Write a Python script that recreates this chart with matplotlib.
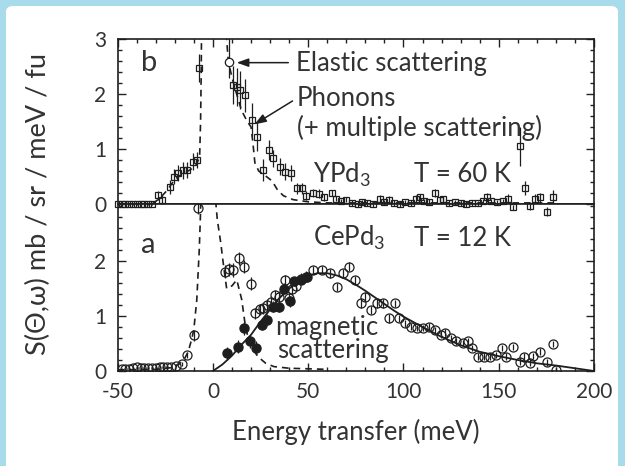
import matplotlib
matplotlib.use("Agg")
import matplotlib.pyplot as plt
from matplotlib.patches import FancyBboxPatch
from matplotlib.ticker import MultipleLocator, FixedLocator

plt.rcParams['font.family'] = ['Lato', 'DejaVu Sans']
plt.rcParams['mathtext.fontset'] = 'custom'
plt.rcParams['mathtext.rm'] = 'Lato'
plt.rcParams['mathtext.it'] = 'Lato'
plt.rcParams['text.color'] = '#333333'
plt.rcParams['axes.labelcolor'] = '#333333'
plt.rcParams['xtick.color'] = '#222222'
plt.rcParams['ytick.color'] = '#222222'
plt.rcParams['xtick.labelcolor'] = '#333333'
plt.rcParams['ytick.labelcolor'] = '#333333'

# --- panel b: YPd3, T = 60 K (open squares) ---
ypd_e = [-50, -48, -46, -44, -42, -40, -38, -36, -34, -32,
         -29, -26.5, -22.5, -20.4, -18.2, -15.6, -13.5, -10.3, -8.5, -7.3,
         10.7, 12.5, 14.2, 16.8, 20.3, 23, 26.4, 29.6, 31.7, 35.2, 37.8, 40.8,
         44, 46.6, 49, 52.4, 55.9, 58.5, 62.3, 64.5, 67, 70, 73, 76, 78, 81,
         84, 87.7, 90, 92.5, 95, 98, 101, 104, 106.5, 108.7, 111, 113.5, 116.6,
         119, 121, 124, 127, 130, 133, 136, 139, 141.5, 143.7, 146, 149, 152,
         155, 157.6, 161.2, 163.8, 166.4, 169, 171.6, 175.2, 178.7]
ypd_s = [0, 0, 0, 0, 0, 0, 0, 0, 0, 0,
         0.16, 0.08, 0.31, 0.5, 0.56, 0.61, 0.62, 0.77, 0.8, 2.47,
         2.16, 2.13, 2.07, 1.98, 1.53, 1.22, 0.62, 0.98, 0.83, 0.68, 0.59, 0.56,
         0.29, 0.29, 0.15, 0.2, 0.19, 0.12, 0.2, 0.1, 0.05, 0.08, 0.02, 0.0, 0.03, 0.02,
         0.0, 0.1, 0.03, 0.08, 0.02, 0.0, 0.03, 0.02, 0.1, 0.12, 0.05, 0.04, 0.2,
         0.08, 0.1, 0.02, 0.03, 0.02, 0.0, 0.02, 0.01, 0.05, 0.12, 0.05, 0.03, 0.05,
         0.1, -0.06, 1.05, 0.29, -0.04, 0.1, 0.12, -0.14, 0.13]
ypd_err = [0.02] * 10 + [0.08, 0.08, 0.12, 0.14, 0.15, 0.15, 0.15, 0.15, 0.15, 0.25,
           0.35, 0.35, 0.35, 0.3, 0.3, 0.25, 0.2, 0.18, 0.15, 0.15, 0.15, 0.15,
           0.1, 0.1, 0.08, 0.08, 0.08, 0.06, 0.06, 0.05, 0.05, 0.05, 0.05, 0.05, 0.05, 0.05,
           0.05, 0.06, 0.05, 0.06, 0.05, 0.05, 0.05, 0.05, 0.06, 0.06, 0.05, 0.05, 0.08,
           0.05, 0.05, 0.05, 0.05, 0.05, 0.05, 0.05, 0.05, 0.05, 0.08, 0.05, 0.05, 0.05,
           0.08, 0.05, 0.35, 0.12, 0.06, 0.08, 0.08, 0.08, 0.12]
elastic_e = [8.6]
elastic_s = [2.59]
elastic_err_lo = [0.3]
elastic_err_hi = [0.45]

# elastic + phonon model for YPd3
ypd_model_left_e = [-50, -32, -28, -24, -20, -16, -12, -9, -7, -6.5, -6.2, -6.0]
ypd_model_left_s = [0.0, 0.0, 0.1, 0.25, 0.45, 0.55, 0.62, 0.7, 0.85, 1.5, 2.3, 3.1]
ypd_model_right_e = [7, 8, 10, 12, 15, 18, 20, 21, 22, 24, 28, 31, 34, 37, 42, 50, 60, 180]
ypd_model_right_s = [3.1, 2.6, 2.3, 2.05, 1.7, 1.5, 1.4, 1.1, 0.75, 0.6, 0.5, 0.42,
                     0.25, 0.15, 0.08, 0.04, 0.02, 0.02]

# --- panel a: CePd3, T = 12 K ---
cepd_e = [-48, -46, -44, -42, -40, -38, -36, -34, -32, -30, -28, -26, -24, -22,
          -19.5, -16.4, -13.5, -10, -7.7,
          6.3, 8.5, 10.7, 13.8, 16.3, 19.8,
          22.2, 24.5, 26.3, 28.4, 30.5, 32.6, 34.7, 37.8, 40, 41.3, 43.5, 46.2, 49,
          52.4, 57.4, 61.6, 65, 68.1, 71.3, 74.4, 77.6, 79.7, 82.8, 86, 89.1, 92.2,
          95.4, 97.5, 100.6, 103.8, 106.9, 110, 113.2, 116.3, 119.5, 121.6, 124.7,
          127.8, 131, 134.1, 136.2, 139.3, 142.5, 145.6, 148.8, 151.9, 154, 157.5,
          161.4, 163.5, 166.4, 168, 171.7, 175.5, 178.6, 180.2]
cepd_s = [0.03, 0.03, 0.04, 0.05, 0.08, 0.05, 0.06, 0.05, 0.06, 0.06, 0.07, 0.08, 0.07, 0.08,
          0.1, 0.13, 0.29, 0.65, 2.96,
          1.81, 1.85, 1.84, 2.05, 1.9, 1.59,
          1.05, 1.12, 1.14, 1.2, 1.26, 1.38, 1.35, 1.65, 1.32, 1.5, 1.55, 1.68, 1.72,
          1.84, 1.84, 1.78, 1.53, 1.78, 1.9, 1.65, 1.23, 1.35, 1.11, 1.23, 1.23, 0.96,
          1.23, 0.96, 0.87, 0.81, 0.78, 0.78, 0.81, 0.75, 0.66, 0.7, 0.6,
          0.54, 0.51, 0.54, 0.42, 0.26, 0.26, 0.26, 0.29, 0.42, 0.26, 0.44,
          0.17, 0.26, 0.15, 0.27, 0.35, 0.16, 0.49, 0.02]
cepd_err = [0.02] * 14 + [0.03, 0.04, 0.05, 0.1, 0.1] + [0.12] * 6 + [0.1] * 13 + \
           [0.08] * 13 + [0.06] * 30

# magnetic part (filled circles)
mag_e = [7.5, 13.3, 16.3, 19.6, 22.7, 25.7, 28.4, 31.5, 34.7, 37.4, 40.6, 42.7, 46.2, 49.4]
mag_s = [0.32, 0.44, 0.78, 0.54, 0.42, 0.84, 0.93, 1.17, 1.17, 1.5, 1.27, 1.63, 1.66, 1.72]
mag_err = [0.12, 0.12, 0.12, 0.12, 0.12, 0.1, 0.1, 0.1, 0.1, 0.1, 0.1, 0.08, 0.08, 0.08]

# magnetic fit (solid line)
fit_e = [0, 5, 10, 15, 20, 25, 30, 35, 40, 45, 50, 55, 60, 65, 70, 75, 80, 85, 90, 95,
         100, 110, 120, 130, 140, 150, 160, 170, 180, 190, 200]
fit_s = [0, 0.12, 0.28, 0.48, 0.66, 0.9, 1.12, 1.33, 1.5, 1.64, 1.74, 1.78, 1.78, 1.74,
         1.67, 1.57, 1.46, 1.34, 1.22, 1.1, 0.99, 0.8, 0.62, 0.47, 0.35, 0.27, 0.2,
         0.14, 0.1, 0.05, 0.0]

# elastic + phonon model for CePd3
cepd_model_left_e = [-50, -30, -22, -18, -15, -13, -11, -10, -8.5, -7.2, -6.6, -6.4]
cepd_model_left_s = [0.02, 0.03, 0.06, 0.12, 0.22, 0.35, 0.6, 0.77, 1.29, 2.2, 2.8, 3.1]
cepd_model_right_e = [1.4, 2.3, 4.1, 5.8, 7.2, 10, 12.5, 15.1, 16.8, 18.6, 21.2, 24,
                      27.7, 32, 40, 50, 60]
cepd_model_right_s = [3.1, 2.75, 2.33, 1.85, 1.5, 1.55, 1.66, 1.3, 0.87, 0.57, 0.38,
                      0.25, 0.14, 0.08, 0.05, 0.04, 0.03]

ink = '#1e1e1e'
txt_size = 18.5
dash = (0, (4, 3))

fig = plt.figure(figsize=(6.25, 4.66), dpi=100)
fig.patch.set_facecolor('#a8dcea')
fig.patches.append(FancyBboxPatch((6 / 625, -0.05), 612 / 625, 1.05 - 6 / 466,
                                  boxstyle='round,pad=0,rounding_size=0.012',
                                  transform=fig.transFigure, facecolor='white',
                                  edgecolor='none', zorder=-10))

left, width = 117.7 / 625, (594 - 117.7) / 625
ax_a = fig.add_axes([left, 1 - 371 / 466, width, 167 / 466])
ax_b = fig.add_axes([left, 1 - 204 / 466, width, 165 / 466], sharex=ax_a)

for ax in (ax_a, ax_b):
    ax.set_facecolor('none')
    for sp in ax.spines.values():
        sp.set_linewidth(1.2)
        sp.set_color(ink)
    ax.xaxis.set_major_locator(MultipleLocator(50))
    ax.xaxis.set_minor_locator(MultipleLocator(10))
    ax.yaxis.set_minor_locator(MultipleLocator(0.2))
    ax.tick_params(which='both', direction='in', left=True, right=True,
                   width=1.0, labelsize=15, pad=8)
    ax.tick_params(which='major', length=6)
    ax.tick_params(which='minor', length=3)

ax_a.set_xlim(-50, 200)
ax_a.set_ylim(0, 3.04)
ax_b.set_ylim(0, 3.0)
ax_a.yaxis.set_major_locator(FixedLocator([0, 1, 2]))
ax_b.yaxis.set_major_locator(FixedLocator([0, 1, 2, 3]))
ax_a.tick_params(which='both', top=False, bottom=True)
ax_b.tick_params(which='both', top=True, bottom=False, labelbottom=False)
ax_b.spines['bottom'].set_visible(False)
ax_a.set_xticks([-50, 0, 50, 100, 150, 200])
ax_a.set_xticklabels(['-50', '0', '50', '100', '150', '200'])

# panel b
ax_b.plot(ypd_model_left_e, ypd_model_left_s, ls=dash, color=ink, lw=1.2)
ax_b.plot(ypd_model_right_e, ypd_model_right_s, ls=dash, color=ink, lw=1.2)
ax_b.errorbar(ypd_e, ypd_s, yerr=ypd_err, fmt='s', ms=5, mfc='none', mec=ink,
              mew=0.9, ecolor=ink, elinewidth=0.9, capsize=0, clip_on=False, zorder=3)
ax_b.errorbar(elastic_e, elastic_s, yerr=[elastic_err_lo, elastic_err_hi], fmt='o',
              ms=6, mfc='white', mec=ink, mew=0.9, ecolor=ink, elinewidth=0.9,
              capsize=0, zorder=3)
ax_b.plot([0, 1], [0, 0], transform=ax_b.transAxes, color=ink, lw=1.2, zorder=4)

arrow = dict(arrowstyle='-|>,head_length=0.7,head_width=0.25', color=ink, lw=1.1)
ax_b.text(-37.7, 2.56, 'b', fontsize=21, va='center')
ax_b.text(43.5, 2.56, 'Elastic scattering', fontsize=txt_size, va='center')
ax_b.annotate('', xy=(11, 2.57), xytext=(41, 2.57), arrowprops=arrow)
ax_b.text(44, 1.91, 'Phonons', fontsize=txt_size, va='center')
ax_b.text(44, 1.38, '(+ multiple scattering)', fontsize=txt_size, va='center')
ax_b.annotate('', xy=(20.5, 1.42), xytext=(43, 1.9), arrowprops=arrow)
ax_b.text(52.5, 0.53, 'YPd$_3$', fontsize=txt_size, va='center')
ax_b.text(105.7, 0.53, 'T = 60 K', fontsize=txt_size, va='center')

# panel a
ax_a.plot(cepd_model_left_e, cepd_model_left_s, ls=dash, color=ink, lw=1.2)
ax_a.plot(cepd_model_right_e, cepd_model_right_s, ls=dash, color=ink, lw=1.2)
ax_a.plot(fit_e, fit_s, color=ink, lw=1.3)
ax_a.errorbar(cepd_e, cepd_s, yerr=cepd_err, fmt='o', ms=6.5, mfc='none', mec=ink,
              mew=0.9, ecolor=ink, elinewidth=0.9, capsize=0, zorder=3)
ax_a.errorbar(mag_e, mag_s, yerr=mag_err, fmt='o', ms=6.5, mfc=ink, mec=ink,
              ecolor=ink, elinewidth=0.9, capsize=0, zorder=3)

ax_a.text(-37.7, 2.29, 'a', fontsize=21, va='center')
ax_a.text(52.5, 2.42, 'CePd$_3$', fontsize=txt_size, va='center')
ax_a.text(105.7, 2.42, 'T = 12 K', fontsize=txt_size, va='center')
ax_a.text(32.6, 0.8, 'magnetic', fontsize=txt_size, va='center')
ax_a.text(33.5, 0.38, 'scattering', fontsize=txt_size, va='center')

ax_a.set_xlabel('Energy transfer (meV)', fontsize=18.5, labelpad=12)
fig.text(38 / 625, 1 - 204 / 466, 'S(Θ,ω) mb / sr / meV / fu', rotation=90,
         fontsize=19.5, ha='center', va='center')

fig.savefig('out.png', dpi=100, facecolor=fig.get_facecolor())
